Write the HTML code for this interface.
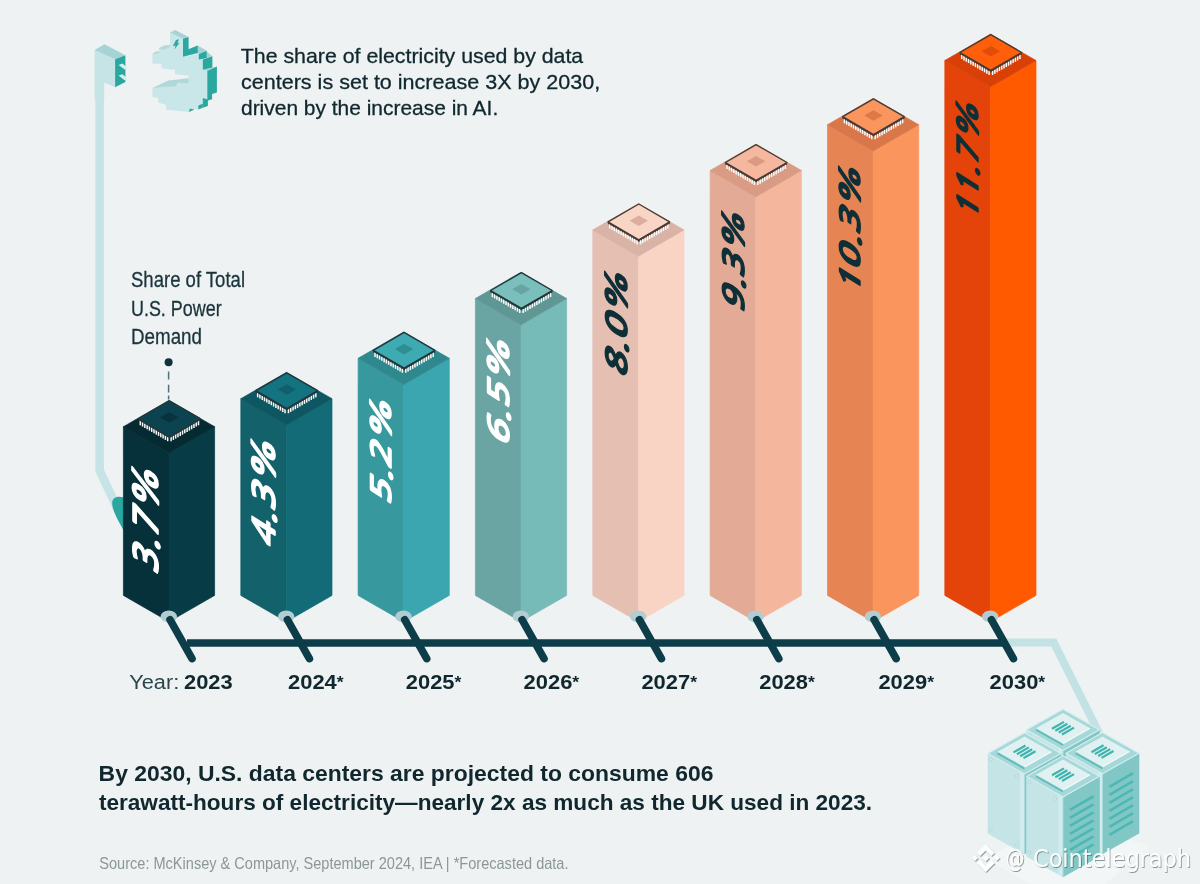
<!DOCTYPE html>
<html lang="en"><head><meta charset="utf-8"><title>Data center electricity share</title>
<style>html,body{margin:0;padding:0;background:#eef2f3;}body{width:1200px;height:884px;overflow:hidden}svg text{white-space:pre}</style>
</head><body>
<svg width="1200" height="884" viewBox="0 0 1200 884" style="display:block;will-change:transform">
<rect width="1200" height="884" fill="#eef2f3"/>
<path d="M99.6,60 V470.5 L121.5,517" fill="none" stroke="#c6e4e6" stroke-width="8.6" stroke-linejoin="round"/>
<path d="M112.2,503 C112.2,497 118,495.5 124,497.5 L124,531 C119,522 112.2,511 112.2,503 Z" fill="#2aa8a0"/>
<polygon points="94.6,50.1 115.1,59.3 115.1,87.2 104.2,82.4 104.2,100.0 94.6,100.0" fill="#c6e4e6" />
<polygon points="94.6,50.1 104.5,44.2 125.4,55.2 115.1,59.3" fill="#a6d3d4" />
<polygon points="115.1,59.3 125.4,55.2 125.4,82.1 115.1,87.2" fill="#2aa8a0" />
<polygon points="118.6,65.0 122.4,63.6 127.4,67.4 124.6,69.4" fill="#d9eeef" />
<polygon points="118.6,75.6 122.4,74.2 127.4,78.2 124.6,80.2" fill="#d9eeef" />
<polygon points="170.0,32.4 183.0,38.7 183.0,56.8 198.8,53.7 198.8,59.0 202.9,59.0 202.9,69.8 207.3,70.9 207.3,99.2 202.8,98.1 202.8,106.5 198.3,105.1 198.3,109.6 189.8,108.5 188.9,111.9 166.0,109.4 166.0,104.8 158.1,102.6 158.1,98.1 152.4,96.9 152.4,87.9 188.6,79.0 188.6,75.4 175.1,74.3 175.1,69.8 161.5,68.6 161.5,64.1 152.4,63.6 152.4,53.7 159.2,51.1 159.2,48.1 170.0,45.1" fill="#c9e6e8" />
<polygon points="170.0,32.4 175.3,30.0 188.6,37.0 183.0,38.7" fill="#a6d3d4" />
<polygon points="159.2,48.1 164.0,45.6 170.0,45.1 170.0,46.9 164.3,49.6 159.2,49.6" fill="#b3d9da" />
<polygon points="152.4,53.7 155.3,51.7 159.2,51.1 159.2,52.8 155.8,53.9" fill="#b3d9da" />
<polygon points="152.4,87.9 168.3,80.5 188.6,78.3 188.6,83.3 177.3,82.8 176.2,86.2 162.6,86.7" fill="#b1d8d9" />
<polygon points="188.6,49.2 197.7,45.5 206.7,50.5 198.8,53.9" fill="#a6d3d4" />
<polygon points="198.8,59.0 206.7,57.9 212.4,56.2 206.7,51.4" fill="#a6d3d4" />
<polygon points="202.8,69.8 212.4,67.5 216.9,66.4 207.3,70.9" fill="#a6d3d4" />
<polygon points="183.0,38.7 188.6,37.0 188.6,49.2 197.7,45.5 197.7,53.0 183.0,56.8" fill="#2aa8a0" />
<polygon points="198.8,53.9 206.7,50.8 206.7,57.9 198.8,59.4" fill="#2aa8a0" />
<polygon points="202.8,59.4 212.4,56.2 212.4,67.5 202.8,69.8" fill="#2aa8a0" />
<polygon points="207.3,70.9 216.9,66.4 216.9,92.4 212.1,94.1 212.1,99.2 207.9,100.5 207.9,106.0 202.8,107.7 202.8,98.1 207.3,99.2" fill="#2aa8a0" />
<polygon points="198.3,105.4 202.8,103.7 202.8,107.7 198.3,109.6" fill="#2aa8a0" />
<polygon points="189.8,108.6 194.5,109.4 188.9,111.9" fill="#2aa8a0" />
<polygon points="176.0,40.1 179.0,39.2 177.3,43.2 179.6,42.6 174.5,49.6 175.6,45.5 172.8,46.2" fill="#2aa8a0" />
<text x="240.8" y="62.6" font-family="'Liberation Sans', Arial, Helvetica, sans-serif" font-size="21" font-weight="normal" fill="#10272e" textLength="342.4" lengthAdjust="spacingAndGlyphs" stroke="#10272e" stroke-width="0.3">The share of electricity used by data</text>
<text x="241.0" y="88.6" font-family="'Liberation Sans', Arial, Helvetica, sans-serif" font-size="21" font-weight="normal" fill="#10272e" textLength="359.2" lengthAdjust="spacingAndGlyphs" stroke="#10272e" stroke-width="0.3">centers is set to increase 3X by 2030,</text>
<text x="241.0" y="114.7" font-family="'Liberation Sans', Arial, Helvetica, sans-serif" font-size="21" font-weight="normal" fill="#10272e" textLength="257.2" lengthAdjust="spacingAndGlyphs" stroke="#10272e" stroke-width="0.3">driven by the increase in AI.</text>
<text x="131.0" y="287.4" font-family="'Liberation Sans', Arial, Helvetica, sans-serif" font-size="22" font-weight="normal" fill="#1b343b" textLength="114.0" lengthAdjust="spacingAndGlyphs" stroke="#1b343b" stroke-width="0.3">Share of Total</text>
<text x="131.0" y="315.5" font-family="'Liberation Sans', Arial, Helvetica, sans-serif" font-size="22" font-weight="normal" fill="#1b343b" textLength="90.6" lengthAdjust="spacingAndGlyphs" stroke="#1b343b" stroke-width="0.3">U.S. Power</text>
<text x="131.0" y="343.5" font-family="'Liberation Sans', Arial, Helvetica, sans-serif" font-size="22" font-weight="normal" fill="#1b343b" textLength="71.0" lengthAdjust="spacingAndGlyphs" stroke="#1b343b" stroke-width="0.3">Demand</text>
<circle cx="168.6" cy="362.3" r="4" fill="#0e333c"/>
<path d="M168.6,371.6V379.5M168.6,384.8V392.6M168.6,395.5V399.5" stroke="#55717a" stroke-width="1.5"/>
<polygon points="123.4,426.7 169.0,453.0 169.0,621.7 123.4,595.4" fill="#06313a" stroke="#06313a" stroke-width="0.7" stroke-linejoin="round"/>
<polygon points="169.0,453.0 214.6,426.7 214.6,595.4 169.0,621.7" fill="#073c47" stroke="#073c47" stroke-width="0.7" stroke-linejoin="round"/>
<polygon points="169.0,400.4 123.4,426.7 169.0,453.0 214.6,426.7" fill="#052a32" stroke="#052a32" stroke-width="0.7" stroke-linejoin="round"/>
<polygon points="138.6,418.7 169.4,436.6 200.2,418.7 200.2,420.9 169.4,438.8 138.6,420.9" fill="#22383c" />
<path d="M140.31,420.69v4.6" stroke="#fbfbfa" stroke-width="1.5"/>
<path d="M142.59,422.02v4.6" stroke="#fbfbfa" stroke-width="1.5"/>
<path d="M144.87,423.35v4.6" stroke="#fbfbfa" stroke-width="1.5"/>
<path d="M147.16,424.67v4.6" stroke="#fbfbfa" stroke-width="1.5"/>
<path d="M149.44,426.00v4.6" stroke="#fbfbfa" stroke-width="1.5"/>
<path d="M151.72,427.32v4.6" stroke="#fbfbfa" stroke-width="1.5"/>
<path d="M154.00,428.65v4.6" stroke="#fbfbfa" stroke-width="1.5"/>
<path d="M156.28,429.98v4.6" stroke="#fbfbfa" stroke-width="1.5"/>
<path d="M158.56,431.30v4.6" stroke="#fbfbfa" stroke-width="1.5"/>
<path d="M160.84,432.63v4.6" stroke="#fbfbfa" stroke-width="1.5"/>
<path d="M163.13,433.95v4.6" stroke="#fbfbfa" stroke-width="1.5"/>
<path d="M165.41,435.28v4.6" stroke="#fbfbfa" stroke-width="1.5"/>
<path d="M167.69,436.61v4.6" stroke="#fbfbfa" stroke-width="1.5"/>
<path d="M198.49,420.69v4.6" stroke="#fbfbfa" stroke-width="1.5"/>
<path d="M196.21,422.02v4.6" stroke="#fbfbfa" stroke-width="1.5"/>
<path d="M193.93,423.35v4.6" stroke="#fbfbfa" stroke-width="1.5"/>
<path d="M191.64,424.67v4.6" stroke="#fbfbfa" stroke-width="1.5"/>
<path d="M189.36,426.00v4.6" stroke="#fbfbfa" stroke-width="1.5"/>
<path d="M187.08,427.32v4.6" stroke="#fbfbfa" stroke-width="1.5"/>
<path d="M184.80,428.65v4.6" stroke="#fbfbfa" stroke-width="1.5"/>
<path d="M182.52,429.98v4.6" stroke="#fbfbfa" stroke-width="1.5"/>
<path d="M180.24,431.30v4.6" stroke="#fbfbfa" stroke-width="1.5"/>
<path d="M177.96,432.63v4.6" stroke="#fbfbfa" stroke-width="1.5"/>
<path d="M175.67,433.95v4.6" stroke="#fbfbfa" stroke-width="1.5"/>
<path d="M173.39,435.28v4.6" stroke="#fbfbfa" stroke-width="1.5"/>
<path d="M171.11,436.61v4.6" stroke="#fbfbfa" stroke-width="1.5"/>
<polygon points="169.4,400.8 138.6,418.7 169.4,436.6 200.2,418.7" fill="#0b4450" stroke="#22383c" stroke-width="1.4" stroke-linejoin="round"/>
<path d="M138.6,419.3L169.4,437.2L200.2,419.3" fill="none" stroke="#22383c" stroke-width="1.6" stroke-linejoin="round"/>
<polygon points="169.4,412.2 160.2,417.5 169.4,422.8 178.6,417.5" fill="#07333d" />
<polygon points="240.8,398.7 286.4,425.0 286.4,621.7 240.8,595.4" fill="#13616b" stroke="#13616b" stroke-width="0.7" stroke-linejoin="round"/>
<polygon points="286.4,425.0 332.0,398.7 332.0,595.4 286.4,621.7" fill="#126b77" stroke="#126b77" stroke-width="0.7" stroke-linejoin="round"/>
<polygon points="286.4,372.4 240.8,398.7 286.4,425.0 332.0,398.7" fill="#0e5661" stroke="#0e5661" stroke-width="0.7" stroke-linejoin="round"/>
<polygon points="255.9,390.7 286.8,408.6 317.6,390.7 317.6,392.9 286.8,410.8 255.9,392.9" fill="#22383c" />
<path d="M257.66,392.69v4.6" stroke="#fbfbfa" stroke-width="1.5"/>
<path d="M259.94,394.02v4.6" stroke="#fbfbfa" stroke-width="1.5"/>
<path d="M262.22,395.35v4.6" stroke="#fbfbfa" stroke-width="1.5"/>
<path d="M264.51,396.67v4.6" stroke="#fbfbfa" stroke-width="1.5"/>
<path d="M266.79,398.00v4.6" stroke="#fbfbfa" stroke-width="1.5"/>
<path d="M269.07,399.32v4.6" stroke="#fbfbfa" stroke-width="1.5"/>
<path d="M271.35,400.65v4.6" stroke="#fbfbfa" stroke-width="1.5"/>
<path d="M273.63,401.98v4.6" stroke="#fbfbfa" stroke-width="1.5"/>
<path d="M275.91,403.30v4.6" stroke="#fbfbfa" stroke-width="1.5"/>
<path d="M278.19,404.63v4.6" stroke="#fbfbfa" stroke-width="1.5"/>
<path d="M280.48,405.95v4.6" stroke="#fbfbfa" stroke-width="1.5"/>
<path d="M282.76,407.28v4.6" stroke="#fbfbfa" stroke-width="1.5"/>
<path d="M285.04,408.61v4.6" stroke="#fbfbfa" stroke-width="1.5"/>
<path d="M315.84,392.69v4.6" stroke="#fbfbfa" stroke-width="1.5"/>
<path d="M313.56,394.02v4.6" stroke="#fbfbfa" stroke-width="1.5"/>
<path d="M311.28,395.35v4.6" stroke="#fbfbfa" stroke-width="1.5"/>
<path d="M308.99,396.67v4.6" stroke="#fbfbfa" stroke-width="1.5"/>
<path d="M306.71,398.00v4.6" stroke="#fbfbfa" stroke-width="1.5"/>
<path d="M304.43,399.32v4.6" stroke="#fbfbfa" stroke-width="1.5"/>
<path d="M302.15,400.65v4.6" stroke="#fbfbfa" stroke-width="1.5"/>
<path d="M299.87,401.98v4.6" stroke="#fbfbfa" stroke-width="1.5"/>
<path d="M297.59,403.30v4.6" stroke="#fbfbfa" stroke-width="1.5"/>
<path d="M295.31,404.63v4.6" stroke="#fbfbfa" stroke-width="1.5"/>
<path d="M293.02,405.95v4.6" stroke="#fbfbfa" stroke-width="1.5"/>
<path d="M290.74,407.28v4.6" stroke="#fbfbfa" stroke-width="1.5"/>
<path d="M288.46,408.61v4.6" stroke="#fbfbfa" stroke-width="1.5"/>
<polygon points="286.8,372.8 255.9,390.7 286.8,408.6 317.6,390.7" fill="#147380" stroke="#22383c" stroke-width="1.4" stroke-linejoin="round"/>
<path d="M255.9,391.3L286.8,409.2L317.6,391.3" fill="none" stroke="#22383c" stroke-width="1.6" stroke-linejoin="round"/>
<polygon points="286.8,384.2 277.6,389.5 286.8,394.8 295.9,389.5" fill="#0f606b" />
<polygon points="358.1,358.3 403.7,384.6 403.7,621.7 358.1,595.4" fill="#37999e" stroke="#37999e" stroke-width="0.7" stroke-linejoin="round"/>
<polygon points="403.7,384.6 449.3,358.3 449.3,595.4 403.7,621.7" fill="#3ba6af" stroke="#3ba6af" stroke-width="0.7" stroke-linejoin="round"/>
<polygon points="403.7,332.0 358.1,358.3 403.7,384.6 449.3,358.3" fill="#2f888d" stroke="#2f888d" stroke-width="0.7" stroke-linejoin="round"/>
<polygon points="373.3,350.3 404.1,368.2 434.9,350.3 434.9,352.5 404.1,370.4 373.3,352.5" fill="#22383c" />
<path d="M375.01,352.29v4.6" stroke="#fbfbfa" stroke-width="1.5"/>
<path d="M377.29,353.62v4.6" stroke="#fbfbfa" stroke-width="1.5"/>
<path d="M379.57,354.95v4.6" stroke="#fbfbfa" stroke-width="1.5"/>
<path d="M381.86,356.27v4.6" stroke="#fbfbfa" stroke-width="1.5"/>
<path d="M384.14,357.60v4.6" stroke="#fbfbfa" stroke-width="1.5"/>
<path d="M386.42,358.92v4.6" stroke="#fbfbfa" stroke-width="1.5"/>
<path d="M388.70,360.25v4.6" stroke="#fbfbfa" stroke-width="1.5"/>
<path d="M390.98,361.58v4.6" stroke="#fbfbfa" stroke-width="1.5"/>
<path d="M393.26,362.90v4.6" stroke="#fbfbfa" stroke-width="1.5"/>
<path d="M395.54,364.23v4.6" stroke="#fbfbfa" stroke-width="1.5"/>
<path d="M397.83,365.55v4.6" stroke="#fbfbfa" stroke-width="1.5"/>
<path d="M400.11,366.88v4.6" stroke="#fbfbfa" stroke-width="1.5"/>
<path d="M402.39,368.21v4.6" stroke="#fbfbfa" stroke-width="1.5"/>
<path d="M433.19,352.29v4.6" stroke="#fbfbfa" stroke-width="1.5"/>
<path d="M430.91,353.62v4.6" stroke="#fbfbfa" stroke-width="1.5"/>
<path d="M428.63,354.95v4.6" stroke="#fbfbfa" stroke-width="1.5"/>
<path d="M426.34,356.27v4.6" stroke="#fbfbfa" stroke-width="1.5"/>
<path d="M424.06,357.60v4.6" stroke="#fbfbfa" stroke-width="1.5"/>
<path d="M421.78,358.92v4.6" stroke="#fbfbfa" stroke-width="1.5"/>
<path d="M419.50,360.25v4.6" stroke="#fbfbfa" stroke-width="1.5"/>
<path d="M417.22,361.58v4.6" stroke="#fbfbfa" stroke-width="1.5"/>
<path d="M414.94,362.90v4.6" stroke="#fbfbfa" stroke-width="1.5"/>
<path d="M412.66,364.23v4.6" stroke="#fbfbfa" stroke-width="1.5"/>
<path d="M410.37,365.55v4.6" stroke="#fbfbfa" stroke-width="1.5"/>
<path d="M408.09,366.88v4.6" stroke="#fbfbfa" stroke-width="1.5"/>
<path d="M405.81,368.21v4.6" stroke="#fbfbfa" stroke-width="1.5"/>
<polygon points="404.1,332.4 373.3,350.3 404.1,368.2 434.9,350.3" fill="#3eaab2" stroke="#22383c" stroke-width="1.4" stroke-linejoin="round"/>
<path d="M373.3,350.9L404.1,368.8L434.9,350.9" fill="none" stroke="#22383c" stroke-width="1.6" stroke-linejoin="round"/>
<polygon points="404.1,343.8 394.9,349.1 404.1,354.4 413.3,349.1" fill="#2f8e94" />
<polygon points="475.4,298.5 521.0,324.8 521.0,621.7 475.4,595.4" fill="#6aa5a3" stroke="#6aa5a3" stroke-width="0.7" stroke-linejoin="round"/>
<polygon points="521.0,324.8 566.6,298.5 566.6,595.4 521.0,621.7" fill="#77bbb8" stroke="#77bbb8" stroke-width="0.7" stroke-linejoin="round"/>
<polygon points="521.0,272.2 475.4,298.5 521.0,324.8 566.6,298.5" fill="#5f9795" stroke="#5f9795" stroke-width="0.7" stroke-linejoin="round"/>
<polygon points="490.6,290.5 521.4,308.4 552.2,290.5 552.2,292.7 521.4,310.6 490.6,292.7" fill="#22383c" />
<path d="M492.36,292.49v4.6" stroke="#fbfbfa" stroke-width="1.5"/>
<path d="M494.64,293.82v4.6" stroke="#fbfbfa" stroke-width="1.5"/>
<path d="M496.92,295.15v4.6" stroke="#fbfbfa" stroke-width="1.5"/>
<path d="M499.21,296.47v4.6" stroke="#fbfbfa" stroke-width="1.5"/>
<path d="M501.49,297.80v4.6" stroke="#fbfbfa" stroke-width="1.5"/>
<path d="M503.77,299.12v4.6" stroke="#fbfbfa" stroke-width="1.5"/>
<path d="M506.05,300.45v4.6" stroke="#fbfbfa" stroke-width="1.5"/>
<path d="M508.33,301.78v4.6" stroke="#fbfbfa" stroke-width="1.5"/>
<path d="M510.61,303.10v4.6" stroke="#fbfbfa" stroke-width="1.5"/>
<path d="M512.89,304.43v4.6" stroke="#fbfbfa" stroke-width="1.5"/>
<path d="M515.18,305.75v4.6" stroke="#fbfbfa" stroke-width="1.5"/>
<path d="M517.46,307.08v4.6" stroke="#fbfbfa" stroke-width="1.5"/>
<path d="M519.74,308.41v4.6" stroke="#fbfbfa" stroke-width="1.5"/>
<path d="M550.54,292.49v4.6" stroke="#fbfbfa" stroke-width="1.5"/>
<path d="M548.26,293.82v4.6" stroke="#fbfbfa" stroke-width="1.5"/>
<path d="M545.98,295.15v4.6" stroke="#fbfbfa" stroke-width="1.5"/>
<path d="M543.69,296.47v4.6" stroke="#fbfbfa" stroke-width="1.5"/>
<path d="M541.41,297.80v4.6" stroke="#fbfbfa" stroke-width="1.5"/>
<path d="M539.13,299.12v4.6" stroke="#fbfbfa" stroke-width="1.5"/>
<path d="M536.85,300.45v4.6" stroke="#fbfbfa" stroke-width="1.5"/>
<path d="M534.57,301.78v4.6" stroke="#fbfbfa" stroke-width="1.5"/>
<path d="M532.29,303.10v4.6" stroke="#fbfbfa" stroke-width="1.5"/>
<path d="M530.01,304.43v4.6" stroke="#fbfbfa" stroke-width="1.5"/>
<path d="M527.72,305.75v4.6" stroke="#fbfbfa" stroke-width="1.5"/>
<path d="M525.44,307.08v4.6" stroke="#fbfbfa" stroke-width="1.5"/>
<path d="M523.16,308.41v4.6" stroke="#fbfbfa" stroke-width="1.5"/>
<polygon points="521.4,272.6 490.6,290.5 521.4,308.4 552.2,290.5" fill="#7bbfbc" stroke="#22383c" stroke-width="1.4" stroke-linejoin="round"/>
<path d="M490.6,291.1L521.4,309.0L552.2,291.1" fill="none" stroke="#22383c" stroke-width="1.6" stroke-linejoin="round"/>
<polygon points="521.4,284.0 512.2,289.3 521.4,294.6 530.6,289.3" fill="#66a5a2" />
<polygon points="592.8,229.9 638.4,256.2 638.4,621.7 592.8,595.4" fill="#e5bfb2" stroke="#e5bfb2" stroke-width="0.7" stroke-linejoin="round"/>
<polygon points="638.4,256.2 684.0,229.9 684.0,595.4 638.4,621.7" fill="#f9d4c4" stroke="#f9d4c4" stroke-width="0.7" stroke-linejoin="round"/>
<polygon points="638.4,203.6 592.8,229.9 638.4,256.2 684.0,229.9" fill="#d9b3a5" stroke="#d9b3a5" stroke-width="0.7" stroke-linejoin="round"/>
<polygon points="608.0,221.9 638.8,239.8 669.6,221.9 669.6,224.1 638.8,242.0 608.0,224.1" fill="#4a3b36" />
<path d="M609.71,223.89v4.6" stroke="#fbfbfa" stroke-width="1.5"/>
<path d="M611.99,225.22v4.6" stroke="#fbfbfa" stroke-width="1.5"/>
<path d="M614.27,226.55v4.6" stroke="#fbfbfa" stroke-width="1.5"/>
<path d="M616.56,227.87v4.6" stroke="#fbfbfa" stroke-width="1.5"/>
<path d="M618.84,229.20v4.6" stroke="#fbfbfa" stroke-width="1.5"/>
<path d="M621.12,230.52v4.6" stroke="#fbfbfa" stroke-width="1.5"/>
<path d="M623.40,231.85v4.6" stroke="#fbfbfa" stroke-width="1.5"/>
<path d="M625.68,233.18v4.6" stroke="#fbfbfa" stroke-width="1.5"/>
<path d="M627.96,234.50v4.6" stroke="#fbfbfa" stroke-width="1.5"/>
<path d="M630.24,235.83v4.6" stroke="#fbfbfa" stroke-width="1.5"/>
<path d="M632.53,237.15v4.6" stroke="#fbfbfa" stroke-width="1.5"/>
<path d="M634.81,238.48v4.6" stroke="#fbfbfa" stroke-width="1.5"/>
<path d="M637.09,239.81v4.6" stroke="#fbfbfa" stroke-width="1.5"/>
<path d="M667.89,223.89v4.6" stroke="#fbfbfa" stroke-width="1.5"/>
<path d="M665.61,225.22v4.6" stroke="#fbfbfa" stroke-width="1.5"/>
<path d="M663.33,226.55v4.6" stroke="#fbfbfa" stroke-width="1.5"/>
<path d="M661.04,227.87v4.6" stroke="#fbfbfa" stroke-width="1.5"/>
<path d="M658.76,229.20v4.6" stroke="#fbfbfa" stroke-width="1.5"/>
<path d="M656.48,230.52v4.6" stroke="#fbfbfa" stroke-width="1.5"/>
<path d="M654.20,231.85v4.6" stroke="#fbfbfa" stroke-width="1.5"/>
<path d="M651.92,233.18v4.6" stroke="#fbfbfa" stroke-width="1.5"/>
<path d="M649.64,234.50v4.6" stroke="#fbfbfa" stroke-width="1.5"/>
<path d="M647.36,235.83v4.6" stroke="#fbfbfa" stroke-width="1.5"/>
<path d="M645.07,237.15v4.6" stroke="#fbfbfa" stroke-width="1.5"/>
<path d="M642.79,238.48v4.6" stroke="#fbfbfa" stroke-width="1.5"/>
<path d="M640.51,239.81v4.6" stroke="#fbfbfa" stroke-width="1.5"/>
<polygon points="638.8,204.0 608.0,221.9 638.8,239.8 669.6,221.9" fill="#f9d5c5" stroke="#4a3b36" stroke-width="1.4" stroke-linejoin="round"/>
<path d="M608.0,222.5L638.8,240.4L669.6,222.5" fill="none" stroke="#4a3b36" stroke-width="1.6" stroke-linejoin="round"/>
<polygon points="638.8,215.4 629.6,220.7 638.8,226.0 648.0,220.7" fill="#dbae9f" />
<polygon points="710.1,170.5 755.8,196.8 755.8,621.7 710.1,595.4" fill="#e3ab95" stroke="#e3ab95" stroke-width="0.7" stroke-linejoin="round"/>
<polygon points="755.8,196.8 801.4,170.5 801.4,595.4 755.8,621.7" fill="#f4b79d" stroke="#f4b79d" stroke-width="0.7" stroke-linejoin="round"/>
<polygon points="755.8,144.2 710.1,170.5 755.8,196.8 801.4,170.5" fill="#d99b83" stroke="#d99b83" stroke-width="0.7" stroke-linejoin="round"/>
<polygon points="725.4,162.5 756.1,180.4 786.9,162.5 786.9,164.7 756.1,182.6 725.4,164.7" fill="#4a3b36" />
<path d="M727.06,164.49v4.6" stroke="#fbfbfa" stroke-width="1.5"/>
<path d="M729.34,165.82v4.6" stroke="#fbfbfa" stroke-width="1.5"/>
<path d="M731.62,167.15v4.6" stroke="#fbfbfa" stroke-width="1.5"/>
<path d="M733.91,168.47v4.6" stroke="#fbfbfa" stroke-width="1.5"/>
<path d="M736.19,169.80v4.6" stroke="#fbfbfa" stroke-width="1.5"/>
<path d="M738.47,171.12v4.6" stroke="#fbfbfa" stroke-width="1.5"/>
<path d="M740.75,172.45v4.6" stroke="#fbfbfa" stroke-width="1.5"/>
<path d="M743.03,173.78v4.6" stroke="#fbfbfa" stroke-width="1.5"/>
<path d="M745.31,175.10v4.6" stroke="#fbfbfa" stroke-width="1.5"/>
<path d="M747.59,176.43v4.6" stroke="#fbfbfa" stroke-width="1.5"/>
<path d="M749.88,177.75v4.6" stroke="#fbfbfa" stroke-width="1.5"/>
<path d="M752.16,179.08v4.6" stroke="#fbfbfa" stroke-width="1.5"/>
<path d="M754.44,180.41v4.6" stroke="#fbfbfa" stroke-width="1.5"/>
<path d="M785.24,164.49v4.6" stroke="#fbfbfa" stroke-width="1.5"/>
<path d="M782.96,165.82v4.6" stroke="#fbfbfa" stroke-width="1.5"/>
<path d="M780.68,167.15v4.6" stroke="#fbfbfa" stroke-width="1.5"/>
<path d="M778.39,168.47v4.6" stroke="#fbfbfa" stroke-width="1.5"/>
<path d="M776.11,169.80v4.6" stroke="#fbfbfa" stroke-width="1.5"/>
<path d="M773.83,171.12v4.6" stroke="#fbfbfa" stroke-width="1.5"/>
<path d="M771.55,172.45v4.6" stroke="#fbfbfa" stroke-width="1.5"/>
<path d="M769.27,173.78v4.6" stroke="#fbfbfa" stroke-width="1.5"/>
<path d="M766.99,175.10v4.6" stroke="#fbfbfa" stroke-width="1.5"/>
<path d="M764.71,176.43v4.6" stroke="#fbfbfa" stroke-width="1.5"/>
<path d="M762.42,177.75v4.6" stroke="#fbfbfa" stroke-width="1.5"/>
<path d="M760.14,179.08v4.6" stroke="#fbfbfa" stroke-width="1.5"/>
<path d="M757.86,180.41v4.6" stroke="#fbfbfa" stroke-width="1.5"/>
<polygon points="756.1,144.6 725.4,162.5 756.1,180.4 786.9,162.5" fill="#f5b89e" stroke="#4a3b36" stroke-width="1.4" stroke-linejoin="round"/>
<path d="M725.4,163.1L756.1,181.0L786.9,163.1" fill="none" stroke="#4a3b36" stroke-width="1.6" stroke-linejoin="round"/>
<polygon points="756.1,156.0 746.9,161.3 756.1,166.6 765.4,161.3" fill="#da9a82" />
<polygon points="827.5,124.7 873.1,151.0 873.1,621.7 827.5,595.4" fill="#e68454" stroke="#e68454" stroke-width="0.7" stroke-linejoin="round"/>
<polygon points="873.1,151.0 918.7,124.7 918.7,595.4 873.1,621.7" fill="#f9955d" stroke="#f9955d" stroke-width="0.7" stroke-linejoin="round"/>
<polygon points="873.1,98.4 827.5,124.7 873.1,151.0 918.7,124.7" fill="#d9774b" stroke="#d9774b" stroke-width="0.7" stroke-linejoin="round"/>
<polygon points="842.7,116.7 873.5,134.6 904.3,116.7 904.3,118.9 873.5,136.8 842.7,118.9" fill="#4a3b36" />
<path d="M844.41,118.69v4.6" stroke="#fbfbfa" stroke-width="1.5"/>
<path d="M846.69,120.02v4.6" stroke="#fbfbfa" stroke-width="1.5"/>
<path d="M848.97,121.35v4.6" stroke="#fbfbfa" stroke-width="1.5"/>
<path d="M851.26,122.67v4.6" stroke="#fbfbfa" stroke-width="1.5"/>
<path d="M853.54,124.00v4.6" stroke="#fbfbfa" stroke-width="1.5"/>
<path d="M855.82,125.32v4.6" stroke="#fbfbfa" stroke-width="1.5"/>
<path d="M858.10,126.65v4.6" stroke="#fbfbfa" stroke-width="1.5"/>
<path d="M860.38,127.98v4.6" stroke="#fbfbfa" stroke-width="1.5"/>
<path d="M862.66,129.30v4.6" stroke="#fbfbfa" stroke-width="1.5"/>
<path d="M864.94,130.63v4.6" stroke="#fbfbfa" stroke-width="1.5"/>
<path d="M867.23,131.95v4.6" stroke="#fbfbfa" stroke-width="1.5"/>
<path d="M869.51,133.28v4.6" stroke="#fbfbfa" stroke-width="1.5"/>
<path d="M871.79,134.61v4.6" stroke="#fbfbfa" stroke-width="1.5"/>
<path d="M902.59,118.69v4.6" stroke="#fbfbfa" stroke-width="1.5"/>
<path d="M900.31,120.02v4.6" stroke="#fbfbfa" stroke-width="1.5"/>
<path d="M898.03,121.35v4.6" stroke="#fbfbfa" stroke-width="1.5"/>
<path d="M895.74,122.67v4.6" stroke="#fbfbfa" stroke-width="1.5"/>
<path d="M893.46,124.00v4.6" stroke="#fbfbfa" stroke-width="1.5"/>
<path d="M891.18,125.32v4.6" stroke="#fbfbfa" stroke-width="1.5"/>
<path d="M888.90,126.65v4.6" stroke="#fbfbfa" stroke-width="1.5"/>
<path d="M886.62,127.98v4.6" stroke="#fbfbfa" stroke-width="1.5"/>
<path d="M884.34,129.30v4.6" stroke="#fbfbfa" stroke-width="1.5"/>
<path d="M882.06,130.63v4.6" stroke="#fbfbfa" stroke-width="1.5"/>
<path d="M879.77,131.95v4.6" stroke="#fbfbfa" stroke-width="1.5"/>
<path d="M877.49,133.28v4.6" stroke="#fbfbfa" stroke-width="1.5"/>
<path d="M875.21,134.61v4.6" stroke="#fbfbfa" stroke-width="1.5"/>
<polygon points="873.5,98.8 842.7,116.7 873.5,134.6 904.3,116.7" fill="#f9955d" stroke="#4a3b36" stroke-width="1.4" stroke-linejoin="round"/>
<path d="M842.7,117.3L873.5,135.2L904.3,117.3" fill="none" stroke="#4a3b36" stroke-width="1.6" stroke-linejoin="round"/>
<polygon points="873.5,110.2 864.3,115.5 873.5,120.8 882.7,115.5" fill="#dd7848" />
<polygon points="944.8,60.5 990.4,86.8 990.4,621.7 944.8,595.4" fill="#e4430a" stroke="#e4430a" stroke-width="0.7" stroke-linejoin="round"/>
<polygon points="990.4,86.8 1036.0,60.5 1036.0,595.4 990.4,621.7" fill="#ff5a00" stroke="#ff5a00" stroke-width="0.7" stroke-linejoin="round"/>
<polygon points="990.4,34.2 944.8,60.5 990.4,86.8 1036.0,60.5" fill="#d84008" stroke="#d84008" stroke-width="0.7" stroke-linejoin="round"/>
<polygon points="960.0,52.5 990.8,70.4 1021.6,52.5 1021.6,54.7 990.8,72.6 960.0,54.7" fill="#4a3b36" />
<path d="M961.76,54.49v4.6" stroke="#fbfbfa" stroke-width="1.5"/>
<path d="M964.04,55.82v4.6" stroke="#fbfbfa" stroke-width="1.5"/>
<path d="M966.32,57.15v4.6" stroke="#fbfbfa" stroke-width="1.5"/>
<path d="M968.61,58.47v4.6" stroke="#fbfbfa" stroke-width="1.5"/>
<path d="M970.89,59.80v4.6" stroke="#fbfbfa" stroke-width="1.5"/>
<path d="M973.17,61.12v4.6" stroke="#fbfbfa" stroke-width="1.5"/>
<path d="M975.45,62.45v4.6" stroke="#fbfbfa" stroke-width="1.5"/>
<path d="M977.73,63.78v4.6" stroke="#fbfbfa" stroke-width="1.5"/>
<path d="M980.01,65.10v4.6" stroke="#fbfbfa" stroke-width="1.5"/>
<path d="M982.29,66.43v4.6" stroke="#fbfbfa" stroke-width="1.5"/>
<path d="M984.58,67.75v4.6" stroke="#fbfbfa" stroke-width="1.5"/>
<path d="M986.86,69.08v4.6" stroke="#fbfbfa" stroke-width="1.5"/>
<path d="M989.14,70.41v4.6" stroke="#fbfbfa" stroke-width="1.5"/>
<path d="M1019.94,54.49v4.6" stroke="#fbfbfa" stroke-width="1.5"/>
<path d="M1017.66,55.82v4.6" stroke="#fbfbfa" stroke-width="1.5"/>
<path d="M1015.38,57.15v4.6" stroke="#fbfbfa" stroke-width="1.5"/>
<path d="M1013.09,58.47v4.6" stroke="#fbfbfa" stroke-width="1.5"/>
<path d="M1010.81,59.80v4.6" stroke="#fbfbfa" stroke-width="1.5"/>
<path d="M1008.53,61.12v4.6" stroke="#fbfbfa" stroke-width="1.5"/>
<path d="M1006.25,62.45v4.6" stroke="#fbfbfa" stroke-width="1.5"/>
<path d="M1003.97,63.78v4.6" stroke="#fbfbfa" stroke-width="1.5"/>
<path d="M1001.69,65.10v4.6" stroke="#fbfbfa" stroke-width="1.5"/>
<path d="M999.41,66.43v4.6" stroke="#fbfbfa" stroke-width="1.5"/>
<path d="M997.12,67.75v4.6" stroke="#fbfbfa" stroke-width="1.5"/>
<path d="M994.84,69.08v4.6" stroke="#fbfbfa" stroke-width="1.5"/>
<path d="M992.56,70.41v4.6" stroke="#fbfbfa" stroke-width="1.5"/>
<polygon points="990.8,34.6 960.0,52.5 990.8,70.4 1021.6,52.5" fill="#ff5f0a" stroke="#4a3b36" stroke-width="1.4" stroke-linejoin="round"/>
<path d="M960.0,53.1L990.8,71.0L1021.6,53.1" fill="none" stroke="#4a3b36" stroke-width="1.6" stroke-linejoin="round"/>
<polygon points="990.8,46.0 981.6,51.3 990.8,56.6 1000.0,51.3" fill="#e34b08" />
<text transform="matrix(0,-1,1,0.63,158.20,576.00)" x="0" y="0" font-family="NanumGothic, 'Liberation Sans', sans-serif" font-size="33.19" font-weight="bold" fill="#ffffff" stroke="#ffffff" stroke-width="1.3" stroke-linejoin="round" textLength="104.2" lengthAdjust="spacingAndGlyphs">3.7%</text>
<text transform="matrix(0,-1,1,0.63,275.00,550.00)" x="0" y="0" font-family="NanumGothic, 'Liberation Sans', sans-serif" font-size="30.41" font-weight="bold" fill="#ffffff" stroke="#ffffff" stroke-width="1.3" stroke-linejoin="round" textLength="106.9" lengthAdjust="spacingAndGlyphs">4.3%</text>
<text transform="matrix(0,-1,1,0.63,391.00,507.00)" x="0" y="0" font-family="NanumGothic, 'Liberation Sans', sans-serif" font-size="27.16" font-weight="bold" fill="#ffffff" stroke="#ffffff" stroke-width="1.3" stroke-linejoin="round" textLength="105.2" lengthAdjust="spacingAndGlyphs">5.2%</text>
<text transform="matrix(0,-1,1,0.63,509.00,448.00)" x="0" y="0" font-family="NanumGothic, 'Liberation Sans', sans-serif" font-size="28.41" font-weight="bold" fill="#ffffff" stroke="#ffffff" stroke-width="1.3" stroke-linejoin="round" textLength="106.6" lengthAdjust="spacingAndGlyphs">6.5%</text>
<text transform="matrix(0,-1,1,0.63,626.90,379.20)" x="0" y="0" font-family="NanumGothic, 'Liberation Sans', sans-serif" font-size="28.41" font-weight="bold" fill="#0f2f37" stroke="#0f2f37" stroke-width="1.3" stroke-linejoin="round" textLength="105.0" lengthAdjust="spacingAndGlyphs">8.0%</text>
<text transform="matrix(0,-1,1,0.63,743.80,314.00)" x="0" y="0" font-family="NanumGothic, 'Liberation Sans', sans-serif" font-size="28.41" font-weight="bold" fill="#0f2f37" stroke="#0f2f37" stroke-width="1.3" stroke-linejoin="round" textLength="99.5" lengthAdjust="spacingAndGlyphs">9.3%</text>
<text transform="matrix(0,-1,1,0.63,860.00,296.00)" x="0" y="0" font-family="NanumGothic, 'Liberation Sans', sans-serif" font-size="27.16" font-weight="bold" fill="#0f2f37" stroke="#0f2f37" stroke-width="1.3" stroke-linejoin="round" textLength="127.2" lengthAdjust="spacingAndGlyphs">10.3%</text>
<text transform="matrix(0,-1,1,0.63,978.00,221.80)" x="0" y="0" font-family="NanumGothic, 'Liberation Sans', sans-serif" font-size="27.90" font-weight="bold" fill="#0f2f37" stroke="#0f2f37" stroke-width="1.3" stroke-linejoin="round" textLength="116.9" lengthAdjust="spacingAndGlyphs">11.7%</text>
<path d="M1003,642.6 H1053.8 L1099,733" fill="none" stroke="#c3e2e4" stroke-width="8" stroke-linejoin="miter"/>
<path d="M187,643 H1004" stroke="#0c3d49" stroke-width="7.4" fill="none"/>
<ellipse cx="168.8" cy="616.5" rx="8.2" ry="6.0" fill="#b2cdd1"/>
<path d="M170.0,619.7 L192.0,658.6" stroke="#0c3d49" stroke-width="7.6" stroke-linecap="round" fill="none"/>
<ellipse cx="286.2" cy="616.5" rx="8.2" ry="6.0" fill="#b2cdd1"/>
<path d="M287.4,619.7 L309.4,658.6" stroke="#0c3d49" stroke-width="7.6" stroke-linecap="round" fill="none"/>
<ellipse cx="403.5" cy="616.5" rx="8.2" ry="6.0" fill="#b2cdd1"/>
<path d="M404.7,619.7 L426.7,658.6" stroke="#0c3d49" stroke-width="7.6" stroke-linecap="round" fill="none"/>
<ellipse cx="520.8" cy="616.5" rx="8.2" ry="6.0" fill="#b2cdd1"/>
<path d="M522.0,619.7 L544.0,658.6" stroke="#0c3d49" stroke-width="7.6" stroke-linecap="round" fill="none"/>
<ellipse cx="638.2" cy="616.5" rx="8.2" ry="6.0" fill="#b2cdd1"/>
<path d="M639.4,619.7 L661.4,658.6" stroke="#0c3d49" stroke-width="7.6" stroke-linecap="round" fill="none"/>
<ellipse cx="755.5" cy="616.5" rx="8.2" ry="6.0" fill="#b2cdd1"/>
<path d="M756.8,619.7 L778.8,658.6" stroke="#0c3d49" stroke-width="7.6" stroke-linecap="round" fill="none"/>
<ellipse cx="872.9" cy="616.5" rx="8.2" ry="6.0" fill="#b2cdd1"/>
<path d="M874.1,619.7 L896.1,658.6" stroke="#0c3d49" stroke-width="7.6" stroke-linecap="round" fill="none"/>
<ellipse cx="990.2" cy="616.5" rx="8.2" ry="6.0" fill="#b2cdd1"/>
<path d="M991.4,619.7 L1013.4,658.6" stroke="#0c3d49" stroke-width="7.6" stroke-linecap="round" fill="none"/>
<text x="129.2" y="689.0" font-family="'Liberation Sans', Arial, Helvetica, sans-serif" font-size="20" font-weight="normal" fill="#2b464d" textLength="50.0" lengthAdjust="spacingAndGlyphs" >Year:</text>
<text x="184.0" y="689.0" font-family="'Liberation Sans', Arial, Helvetica, sans-serif" font-size="20" font-weight="bold" fill="#10272e" textLength="48.7" lengthAdjust="spacingAndGlyphs" >2023</text>
<text x="288.0" y="689" font-family="'Liberation Sans', Arial, Helvetica, sans-serif" font-size="20" font-weight="bold" fill="#10272e" textLength="55.6" lengthAdjust="spacingAndGlyphs">2024<tspan dy="-1" font-size="16">*</tspan></text>
<text x="405.8" y="689" font-family="'Liberation Sans', Arial, Helvetica, sans-serif" font-size="20" font-weight="bold" fill="#10272e" textLength="55.6" lengthAdjust="spacingAndGlyphs">2025<tspan dy="-1" font-size="16">*</tspan></text>
<text x="523.6" y="689" font-family="'Liberation Sans', Arial, Helvetica, sans-serif" font-size="20" font-weight="bold" fill="#10272e" textLength="55.6" lengthAdjust="spacingAndGlyphs">2026<tspan dy="-1" font-size="16">*</tspan></text>
<text x="641.4" y="689" font-family="'Liberation Sans', Arial, Helvetica, sans-serif" font-size="20" font-weight="bold" fill="#10272e" textLength="55.6" lengthAdjust="spacingAndGlyphs">2027<tspan dy="-1" font-size="16">*</tspan></text>
<text x="759.2" y="689" font-family="'Liberation Sans', Arial, Helvetica, sans-serif" font-size="20" font-weight="bold" fill="#10272e" textLength="55.6" lengthAdjust="spacingAndGlyphs">2028<tspan dy="-1" font-size="16">*</tspan></text>
<text x="878.4" y="689" font-family="'Liberation Sans', Arial, Helvetica, sans-serif" font-size="20" font-weight="bold" fill="#10272e" textLength="55.6" lengthAdjust="spacingAndGlyphs">2029<tspan dy="-1" font-size="16">*</tspan></text>
<text x="989.6" y="689" font-family="'Liberation Sans', Arial, Helvetica, sans-serif" font-size="20" font-weight="bold" fill="#10272e" textLength="55.6" lengthAdjust="spacingAndGlyphs">2030<tspan dy="-1" font-size="16">*</tspan></text>
<polygon points="1063.0,820.0 985.0,858.0 1030.0,884.0 1105.0,884.0 1150.0,846.0" fill="#f2f6f7" />
<polygon points="1026.5,729.8 1063.0,750.4 1063.0,830.4 1026.5,809.8" fill="#c4e4e6" stroke="#c4e4e6" stroke-width="0.6"/>
<polygon points="1063.0,750.4 1099.5,729.8 1099.5,809.8 1063.0,830.4" fill="#80c7c5" stroke="#80c7c5" stroke-width="0.6"/>
<polygon points="1058.5,747.8 1063.0,750.4 1063.0,830.4 1058.5,827.8" fill="#d2ebed" />
<path d="M1063.0,750.4V830.4" stroke="#a9dcdc" stroke-width="1"/>
<polygon points="1063.0,709.2 1026.5,729.8 1063.0,750.4 1099.5,729.8" fill="#a7d8d9" stroke="#d4eeef" stroke-width="1.1" stroke-linejoin="round"/>
<path d="M1036.0,729.8L1063.0,745.0" fill="none" stroke="#5bbcb9" stroke-width="1.8" stroke-linejoin="round"/>
<polygon points="1063.0,713.0 1036.0,728.2 1063.0,743.4 1090.0,728.2" fill="#e1f0f1" />
<path d="M1063.0,743.4L1090.0,728.2" stroke="#f4fbfb" stroke-width="1.2"/>
<path d="M1052.0,728.8L1064.0,721.9" stroke="#3fb3ae" stroke-width="2.2"/>
<path d="M1055.3,730.7L1067.3,723.8" stroke="#3fb3ae" stroke-width="2.2"/>
<path d="M1058.7,732.6L1070.7,725.7" stroke="#3fb3ae" stroke-width="2.2"/>
<path d="M1062.0,734.5L1074.0,727.6" stroke="#3fb3ae" stroke-width="2.2"/>
<path d="M1070.0,763.4L1093.5,749.8" stroke="#4db7b3" stroke-width="2.5"/>
<path d="M1070.0,771.4L1093.5,757.8" stroke="#4db7b3" stroke-width="2.5"/>
<path d="M1070.0,779.4L1093.5,765.8" stroke="#4db7b3" stroke-width="2.5"/>
<path d="M1070.0,787.4L1093.5,773.8" stroke="#4db7b3" stroke-width="2.5"/>
<path d="M1070.0,795.4L1093.5,781.8" stroke="#4db7b3" stroke-width="2.5"/>
<path d="M1070.0,803.4L1093.5,789.8" stroke="#4db7b3" stroke-width="2.5"/>
<path d="M1070.0,811.4L1093.5,797.8" stroke="#4db7b3" stroke-width="2.5"/>
<circle cx="1029.5" cy="735.8" r="1.5" fill="#d5ecee" stroke="#a3d4d6" stroke-width="0.7"/>
<circle cx="1029.5" cy="805.8" r="1.5" fill="#d5ecee" stroke="#a3d4d6" stroke-width="0.7"/>
<circle cx="1055.0" cy="752.4" r="1.5" fill="#d5ecee" stroke="#a3d4d6" stroke-width="0.7"/>
<circle cx="1055.0" cy="821.4" r="1.5" fill="#d5ecee" stroke="#a3d4d6" stroke-width="0.7"/>
<polygon points="988.0,753.4 1024.5,774.0 1024.5,854.0 988.0,833.4" fill="#c4e4e6" stroke="#c4e4e6" stroke-width="0.6"/>
<polygon points="1024.5,774.0 1061.0,753.4 1061.0,833.4 1024.5,854.0" fill="#80c7c5" stroke="#80c7c5" stroke-width="0.6"/>
<polygon points="1020.0,771.4 1024.5,774.0 1024.5,854.0 1020.0,851.4" fill="#d2ebed" />
<path d="M1024.5,774.0V854.0" stroke="#a9dcdc" stroke-width="1"/>
<polygon points="1024.5,732.8 988.0,753.4 1024.5,774.0 1061.0,753.4" fill="#a7d8d9" stroke="#d4eeef" stroke-width="1.1" stroke-linejoin="round"/>
<path d="M997.5,753.4L1024.5,768.6" fill="none" stroke="#5bbcb9" stroke-width="1.8" stroke-linejoin="round"/>
<polygon points="1024.5,736.6 997.5,751.8 1024.5,767.0 1051.5,751.8" fill="#e1f0f1" />
<path d="M1024.5,767.0L1051.5,751.8" stroke="#f4fbfb" stroke-width="1.2"/>
<path d="M1013.5,752.4L1025.5,745.5" stroke="#3fb3ae" stroke-width="2.2"/>
<path d="M1016.9,754.3L1028.8,747.4" stroke="#3fb3ae" stroke-width="2.2"/>
<path d="M1020.2,756.2L1032.2,749.3" stroke="#3fb3ae" stroke-width="2.2"/>
<path d="M1023.5,758.1L1035.5,751.2" stroke="#3fb3ae" stroke-width="2.2"/>
<path d="M1031.5,787.0L1055.0,773.4" stroke="#4db7b3" stroke-width="2.5"/>
<path d="M1031.5,795.0L1055.0,781.4" stroke="#4db7b3" stroke-width="2.5"/>
<path d="M1031.5,803.0L1055.0,789.4" stroke="#4db7b3" stroke-width="2.5"/>
<path d="M1031.5,811.0L1055.0,797.4" stroke="#4db7b3" stroke-width="2.5"/>
<path d="M1031.5,819.0L1055.0,805.4" stroke="#4db7b3" stroke-width="2.5"/>
<path d="M1031.5,827.0L1055.0,813.4" stroke="#4db7b3" stroke-width="2.5"/>
<path d="M1031.5,835.0L1055.0,821.4" stroke="#4db7b3" stroke-width="2.5"/>
<circle cx="991.0" cy="759.4" r="1.5" fill="#d5ecee" stroke="#a3d4d6" stroke-width="0.7"/>
<circle cx="991.0" cy="829.4" r="1.5" fill="#d5ecee" stroke="#a3d4d6" stroke-width="0.7"/>
<circle cx="1016.5" cy="776.0" r="1.5" fill="#d5ecee" stroke="#a3d4d6" stroke-width="0.7"/>
<circle cx="1016.5" cy="845.0" r="1.5" fill="#d5ecee" stroke="#a3d4d6" stroke-width="0.7"/>
<polygon points="1066.0,753.2 1102.5,773.8 1102.5,853.8 1066.0,833.2" fill="#c4e4e6" stroke="#c4e4e6" stroke-width="0.6"/>
<polygon points="1102.5,773.8 1139.0,753.2 1139.0,833.2 1102.5,853.8" fill="#80c7c5" stroke="#80c7c5" stroke-width="0.6"/>
<polygon points="1098.0,771.2 1102.5,773.8 1102.5,853.8 1098.0,851.2" fill="#d2ebed" />
<path d="M1102.5,773.8V853.8" stroke="#a9dcdc" stroke-width="1"/>
<polygon points="1102.5,732.6 1066.0,753.2 1102.5,773.8 1139.0,753.2" fill="#a7d8d9" stroke="#d4eeef" stroke-width="1.1" stroke-linejoin="round"/>
<path d="M1075.5,753.2L1102.5,768.4" fill="none" stroke="#5bbcb9" stroke-width="1.8" stroke-linejoin="round"/>
<polygon points="1102.5,736.4 1075.5,751.6 1102.5,766.8 1129.5,751.6" fill="#e1f0f1" />
<path d="M1102.5,766.8L1129.5,751.6" stroke="#f4fbfb" stroke-width="1.2"/>
<path d="M1091.5,752.2L1103.5,745.3" stroke="#3fb3ae" stroke-width="2.2"/>
<path d="M1094.8,754.1L1106.8,747.2" stroke="#3fb3ae" stroke-width="2.2"/>
<path d="M1098.2,756.0L1110.2,749.1" stroke="#3fb3ae" stroke-width="2.2"/>
<path d="M1101.5,757.9L1113.5,751.0" stroke="#3fb3ae" stroke-width="2.2"/>
<path d="M1109.5,786.8L1133.0,773.2" stroke="#4db7b3" stroke-width="2.5"/>
<path d="M1109.5,794.8L1133.0,781.2" stroke="#4db7b3" stroke-width="2.5"/>
<path d="M1109.5,802.8L1133.0,789.2" stroke="#4db7b3" stroke-width="2.5"/>
<path d="M1109.5,810.8L1133.0,797.2" stroke="#4db7b3" stroke-width="2.5"/>
<path d="M1109.5,818.8L1133.0,805.2" stroke="#4db7b3" stroke-width="2.5"/>
<path d="M1109.5,826.8L1133.0,813.2" stroke="#4db7b3" stroke-width="2.5"/>
<path d="M1109.5,834.8L1133.0,821.2" stroke="#4db7b3" stroke-width="2.5"/>
<circle cx="1069.0" cy="759.2" r="1.5" fill="#d5ecee" stroke="#a3d4d6" stroke-width="0.7"/>
<circle cx="1069.0" cy="829.2" r="1.5" fill="#d5ecee" stroke="#a3d4d6" stroke-width="0.7"/>
<circle cx="1094.5" cy="775.8" r="1.5" fill="#d5ecee" stroke="#a3d4d6" stroke-width="0.7"/>
<circle cx="1094.5" cy="844.8" r="1.5" fill="#d5ecee" stroke="#a3d4d6" stroke-width="0.7"/>
<polygon points="1026.5,776.3 1063.0,796.9 1063.0,876.9 1026.5,856.3" fill="#c4e4e6" stroke="#c4e4e6" stroke-width="0.6"/>
<polygon points="1063.0,796.9 1099.5,776.3 1099.5,856.3 1063.0,876.9" fill="#80c7c5" stroke="#80c7c5" stroke-width="0.6"/>
<polygon points="1058.5,794.3 1063.0,796.9 1063.0,876.9 1058.5,874.3" fill="#d2ebed" />
<path d="M1063.0,796.9V876.9" stroke="#a9dcdc" stroke-width="1"/>
<polygon points="1063.0,755.7 1026.5,776.3 1063.0,796.9 1099.5,776.3" fill="#a7d8d9" stroke="#d4eeef" stroke-width="1.1" stroke-linejoin="round"/>
<path d="M1036.0,776.3L1063.0,791.5" fill="none" stroke="#5bbcb9" stroke-width="1.8" stroke-linejoin="round"/>
<polygon points="1063.0,759.5 1036.0,774.7 1063.0,789.9 1090.0,774.7" fill="#e1f0f1" />
<path d="M1063.0,789.9L1090.0,774.7" stroke="#f4fbfb" stroke-width="1.2"/>
<path d="M1052.0,775.3L1064.0,768.4" stroke="#3fb3ae" stroke-width="2.2"/>
<path d="M1055.3,777.2L1067.3,770.3" stroke="#3fb3ae" stroke-width="2.2"/>
<path d="M1058.7,779.1L1070.7,772.2" stroke="#3fb3ae" stroke-width="2.2"/>
<path d="M1062.0,781.0L1074.0,774.1" stroke="#3fb3ae" stroke-width="2.2"/>
<path d="M1070.0,809.9L1093.5,796.3" stroke="#4db7b3" stroke-width="2.5"/>
<path d="M1070.0,817.9L1093.5,804.3" stroke="#4db7b3" stroke-width="2.5"/>
<path d="M1070.0,825.9L1093.5,812.3" stroke="#4db7b3" stroke-width="2.5"/>
<path d="M1070.0,833.9L1093.5,820.3" stroke="#4db7b3" stroke-width="2.5"/>
<path d="M1070.0,841.9L1093.5,828.3" stroke="#4db7b3" stroke-width="2.5"/>
<path d="M1070.0,849.9L1093.5,836.3" stroke="#4db7b3" stroke-width="2.5"/>
<path d="M1070.0,857.9L1093.5,844.3" stroke="#4db7b3" stroke-width="2.5"/>
<circle cx="1029.5" cy="782.3" r="1.5" fill="#d5ecee" stroke="#a3d4d6" stroke-width="0.7"/>
<circle cx="1029.5" cy="852.3" r="1.5" fill="#d5ecee" stroke="#a3d4d6" stroke-width="0.7"/>
<circle cx="1055.0" cy="798.9" r="1.5" fill="#d5ecee" stroke="#a3d4d6" stroke-width="0.7"/>
<circle cx="1055.0" cy="867.9" r="1.5" fill="#d5ecee" stroke="#a3d4d6" stroke-width="0.7"/>
<text x="98.6" y="780.7" font-family="'Liberation Sans', Arial, Helvetica, sans-serif" font-size="21.5" font-weight="bold" fill="#10272e" textLength="614.8" lengthAdjust="spacingAndGlyphs" >By 2030, U.S. data centers are projected to consume 606</text>
<text x="98.9" y="809.8" font-family="'Liberation Sans', Arial, Helvetica, sans-serif" font-size="21.5" font-weight="bold" fill="#10272e" textLength="773.2" lengthAdjust="spacingAndGlyphs" >terawatt-hours of electricity—nearly 2x as much as the UK used in 2023.</text>
<text x="99.3" y="869.3" font-family="'Liberation Sans', Arial, Helvetica, sans-serif" font-size="16.5" font-weight="normal" fill="#8c9699" textLength="469.2" lengthAdjust="spacingAndGlyphs" >Source: McKinsey &amp; Company, September 2024, IEA | *Forecasted data.</text>
<defs><filter id="wms" x="-10%" y="-30%" width="120%" height="170%"><feDropShadow dx="0.8" dy="0.9" stdDeviation="0.75" flood-color="#26343a" flood-opacity="0.6"/></filter></defs>
<g filter="url(#wms)" fill="#ffffff" opacity="0.93">
<path d="M985.8,844.3000000000001 l8.7,8.7 l-3.1,3.1 l-5.6,-5.6 l-5.6,5.6 l-3.1,-3.1 Z M985.8,871.9 l8.7,-8.7 l-3.1,-3.1 l-5.6,5.6 l-5.6,-5.6 l-3.1,3.1 Z M985.8,854.8000000000001L989.0999999999999,858.1L985.8,861.4L982.5,858.1Z M974.9,855.1L977.9,858.1L974.9,861.1L971.9,858.1Z M996.6999999999999,855.1L999.6999999999999,858.1L996.6999999999999,861.1L993.6999999999999,858.1Z"/>
<text x="1005.5" y="867.4" font-family="'DejaVu Sans', 'Liberation Sans', sans-serif" font-size="24" textLength="19" lengthAdjust="spacingAndGlyphs">@</text>
<text x="1033" y="867.4" font-family="'DejaVu Sans', 'Liberation Sans', sans-serif" font-size="24.4" textLength="158" lengthAdjust="spacingAndGlyphs">Cointelegraph</text>
</g>
</svg>
</body></html>
